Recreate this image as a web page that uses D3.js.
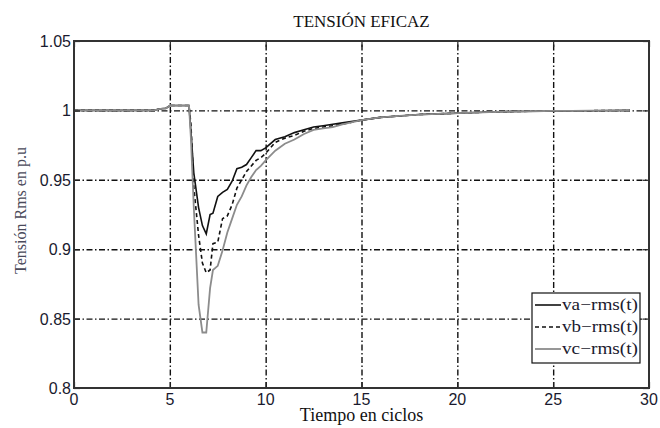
<!DOCTYPE html>
<html>
<head>
<meta charset="utf-8">
<script src="https://cdn.jsdelivr.net/npm/d3@7"></script>
<style>
  body { margin: 0; background: #fff; }
  svg { display: block; }
</style>
</head>
<body>
<svg id="chart" width="660" height="428"></svg>
<script>
// Time axis (cycles) shared by the three rms series
const cycles = [0, 4.2, 4.4, 4.8, 5.0, 6.0, 6.1, 6.25, 6.5, 6.7, 6.9, 7.1, 7.25, 7.5, 7.75, 8.0, 8.25, 8.5, 8.75,
  9.0, 9.25, 9.5, 9.75, 10.0, 10.5, 11, 11.5, 12, 12.5, 13, 13.5, 14, 15, 16, 17, 18, 19, 20, 21, 22, 23, 24, 25,
  26, 27, 28, 29];

const vaRms = [1.0, 1.0, 1.001, 1.0015, 1.0035, 1.0035, 0.985, 0.955, 0.93, 0.917, 0.911, 0.925, 0.926, 0.938,
  0.941, 0.943, 0.949, 0.958, 0.959, 0.961, 0.966, 0.971, 0.971, 0.973, 0.979, 0.981, 0.984, 0.986, 0.988, 0.989,
  0.990, 0.991, 0.993, 0.995, 0.996, 0.997, 0.9975, 0.998, 0.9985, 0.999, 0.9992, 0.9994, 0.9996, 0.9997, 0.9998,
  0.9999, 1.0];

const vbRms = [1.0, 1.0, 1.001, 1.0015, 1.0035, 1.0035, 0.99, 0.945, 0.91, 0.89, 0.883, 0.885, 0.904, 0.905,
  0.922, 0.924, 0.932, 0.944, 0.950, 0.956, 0.960, 0.964, 0.966, 0.969, 0.977, 0.980, 0.982, 0.985, 0.987, 0.988,
  0.989, 0.990, 0.993, 0.995, 0.996, 0.997, 0.9975, 0.998, 0.9985, 0.999, 0.9992, 0.9994, 0.9996, 0.9997, 0.9998,
  0.9999, 1.0];

const vcRms = [1.0, 1.0, 1.001, 1.0015, 1.0035, 1.0035, 0.98, 0.93, 0.86, 0.84, 0.84, 0.872, 0.885, 0.888,
  0.899, 0.912, 0.922, 0.932, 0.938, 0.946, 0.952, 0.957, 0.960, 0.964, 0.971, 0.976, 0.979, 0.983, 0.986, 0.987,
  0.988, 0.990, 0.993, 0.995, 0.996, 0.997, 0.9975, 0.998, 0.9985, 0.999, 0.9992, 0.9994, 0.9996, 0.9997, 0.9998,
  0.9999, 1.0];

const xTicks = [0, 5, 10, 15, 20, 25, 30];
const yTicks = [0.8, 0.85, 0.9, 0.95, 1, 1.05];
const yTickLabels = ['0.8', '0.85', '0.9', '0.95', '1', '1.05'];
const seriesNames = ['va\u2212rms(t)', 'vb\u2212rms(t)', 'vc\u2212rms(t)'];

const SERIF = '"Liberation Serif", "DejaVu Serif", serif';
const SANS = '"Liberation Sans", Arial, sans-serif';

const series = [
  { name: seriesNames[0], values: vaRms, stroke: '#111', width: 1.6, dash: null },
  { name: seriesNames[1], values: vbRms, stroke: '#111', width: 1.6, dash: '4,3' },
  { name: seriesNames[2], values: vcRms, stroke: '#8c8c8c', width: 1.8, dash: null },
];

const svg = d3.select('#chart');
const width = 660;
const height = 428;
const margin = { top: 41, right: 11, bottom: 40, left: 74 };
const innerWidth = width - margin.left - margin.right;
const innerHeight = height - margin.top - margin.bottom;

const g = svg.append('g').attr('transform', `translate(${margin.left},${margin.top})`);

const x = d3.scaleLinear().domain([0, 30]).range([0, innerWidth]);
const y = d3.scaleLinear().domain([0.8, 1.05]).range([innerHeight, 0]);

// Dash-dot grid, inner ticks only (edges are covered by the box)
const gridDash = '6,2.5,1.5,2.5';
g.append('g')
  .attr('transform', `translate(0,${innerHeight})`)
  .call(d3.axisBottom(x).tickValues(xTicks.slice(1, -1)).tickSize(-innerHeight).tickFormat(() => ''))
  .call((grid) => {
    grid.select('.domain').remove();
    grid.selectAll('.tick line').attr('stroke', '#111').attr('stroke-width', 1.4).attr('stroke-dasharray', gridDash);
  });
g.append('g')
  .call(d3.axisLeft(y).tickValues(yTicks.slice(1, -1)).tickSize(-innerWidth).tickFormat(() => ''))
  .call((grid) => {
    grid.select('.domain').remove();
    grid.selectAll('.tick line').attr('stroke', '#111').attr('stroke-width', 1.4).attr('stroke-dasharray', gridDash);
  });

// Data lines, plotted in legend order (vc ends up on top, as in the original)
const lineGen = (vals) => d3.line()
  .x((d, i) => x(cycles[i]))
  .y((d) => y(d))(vals);

series.forEach((s) => {
  g.append('path')
    .attr('d', lineGen(s.values))
    .attr('fill', 'none')
    .attr('stroke', s.stroke)
    .attr('stroke-width', s.width)
    .attr('stroke-dasharray', s.dash)
    .attr('stroke-linejoin', 'miter');
});

// Inward ticks on all four sides
const tickLen = 6;
const styleTicks = (axis) => {
  axis.select('.domain').remove();
  axis.selectAll('.tick line').attr('stroke', '#222').attr('stroke-width', 1.2);
};
g.append('g').attr('transform', `translate(0,${innerHeight})`)
  .call(d3.axisBottom(x).tickValues(xTicks).tickSize(-tickLen).tickFormat(() => '')).call(styleTicks);
g.append('g')
  .call(d3.axisTop(x).tickValues(xTicks).tickSize(-tickLen).tickFormat(() => '')).call(styleTicks);
g.append('g')
  .call(d3.axisLeft(y).tickValues(yTicks).tickSize(-tickLen).tickFormat(() => '')).call(styleTicks);
g.append('g').attr('transform', `translate(${innerWidth},0)`)
  .call(d3.axisRight(y).tickValues(yTicks).tickSize(-tickLen).tickFormat(() => '')).call(styleTicks);

// Box
g.append('rect')
  .attr('width', innerWidth)
  .attr('height', innerHeight)
  .attr('fill', 'none')
  .attr('stroke', '#333')
  .attr('stroke-width', 2);

// Tick labels
g.selectAll('.xlab')
  .data(xTicks)
  .join('text')
  .attr('x', (d) => x(d))
  .attr('y', innerHeight + 17)
  .attr('text-anchor', 'middle')
  .attr('font-family', SANS)
  .attr('font-size', 16)
  .attr('fill', '#1a1a2e')
  .text((d) => d);

g.selectAll('.ylab')
  .data(yTicks)
  .join('text')
  .attr('x', -3)
  .attr('y', (d) => y(d) + 6)
  .attr('text-anchor', 'end')
  .attr('font-family', SANS)
  .attr('font-size', 16)
  .attr('fill', '#1a1a2e')
  .text((d, i) => yTickLabels[i]);

// Title and axis titles
svg.append('text')
  .attr('x', margin.left + innerWidth / 2)
  .attr('y', 27)
  .attr('text-anchor', 'middle')
  .attr('font-family', SERIF)
  .attr('font-size', 17)
  .attr('fill', '#111')
  .text('TENSIÓN EFICAZ');

svg.append('text')
  .attr('x', margin.left + innerWidth / 2)
  .attr('y', 421)
  .attr('text-anchor', 'middle')
  .attr('font-family', SERIF)
  .attr('font-size', 18)
  .attr('fill', '#111')
  .text('Tiempo en ciclos');

svg.append('text')
  .attr('transform', `translate(26,${margin.top + innerHeight / 2 - 4}) rotate(-90)`)
  .attr('text-anchor', 'middle')
  .attr('font-family', SERIF)
  .attr('font-size', 16)
  .attr('fill', '#4a4a5a')
  .text('Tensión Rms en p.u');

// Legend
const legend = svg.append('g').attr('transform', 'translate(532,293)');
legend.append('rect')
  .attr('width', 108)
  .attr('height', 70)
  .attr('fill', '#fff')
  .attr('stroke', '#111')
  .attr('stroke-width', 1.2);
series.forEach((s, i) => {
  const ly = 12 + i * 22;
  legend.append('line')
    .attr('x1', 3).attr('x2', 29)
    .attr('y1', ly).attr('y2', ly)
    .attr('stroke', s.stroke)
    .attr('stroke-width', s.width)
    .attr('stroke-dasharray', s.dash);
  legend.append('text')
    .attr('x', 30)
    .attr('y', ly + 5)
    .attr('font-family', SERIF)
    .attr('font-size', 17)
    .attr('textLength', 76)
    .attr('lengthAdjust', 'spacingAndGlyphs')
    .attr('fill', '#1a1a2e')
    .text(s.name);
});
</script>
</body>
</html>
